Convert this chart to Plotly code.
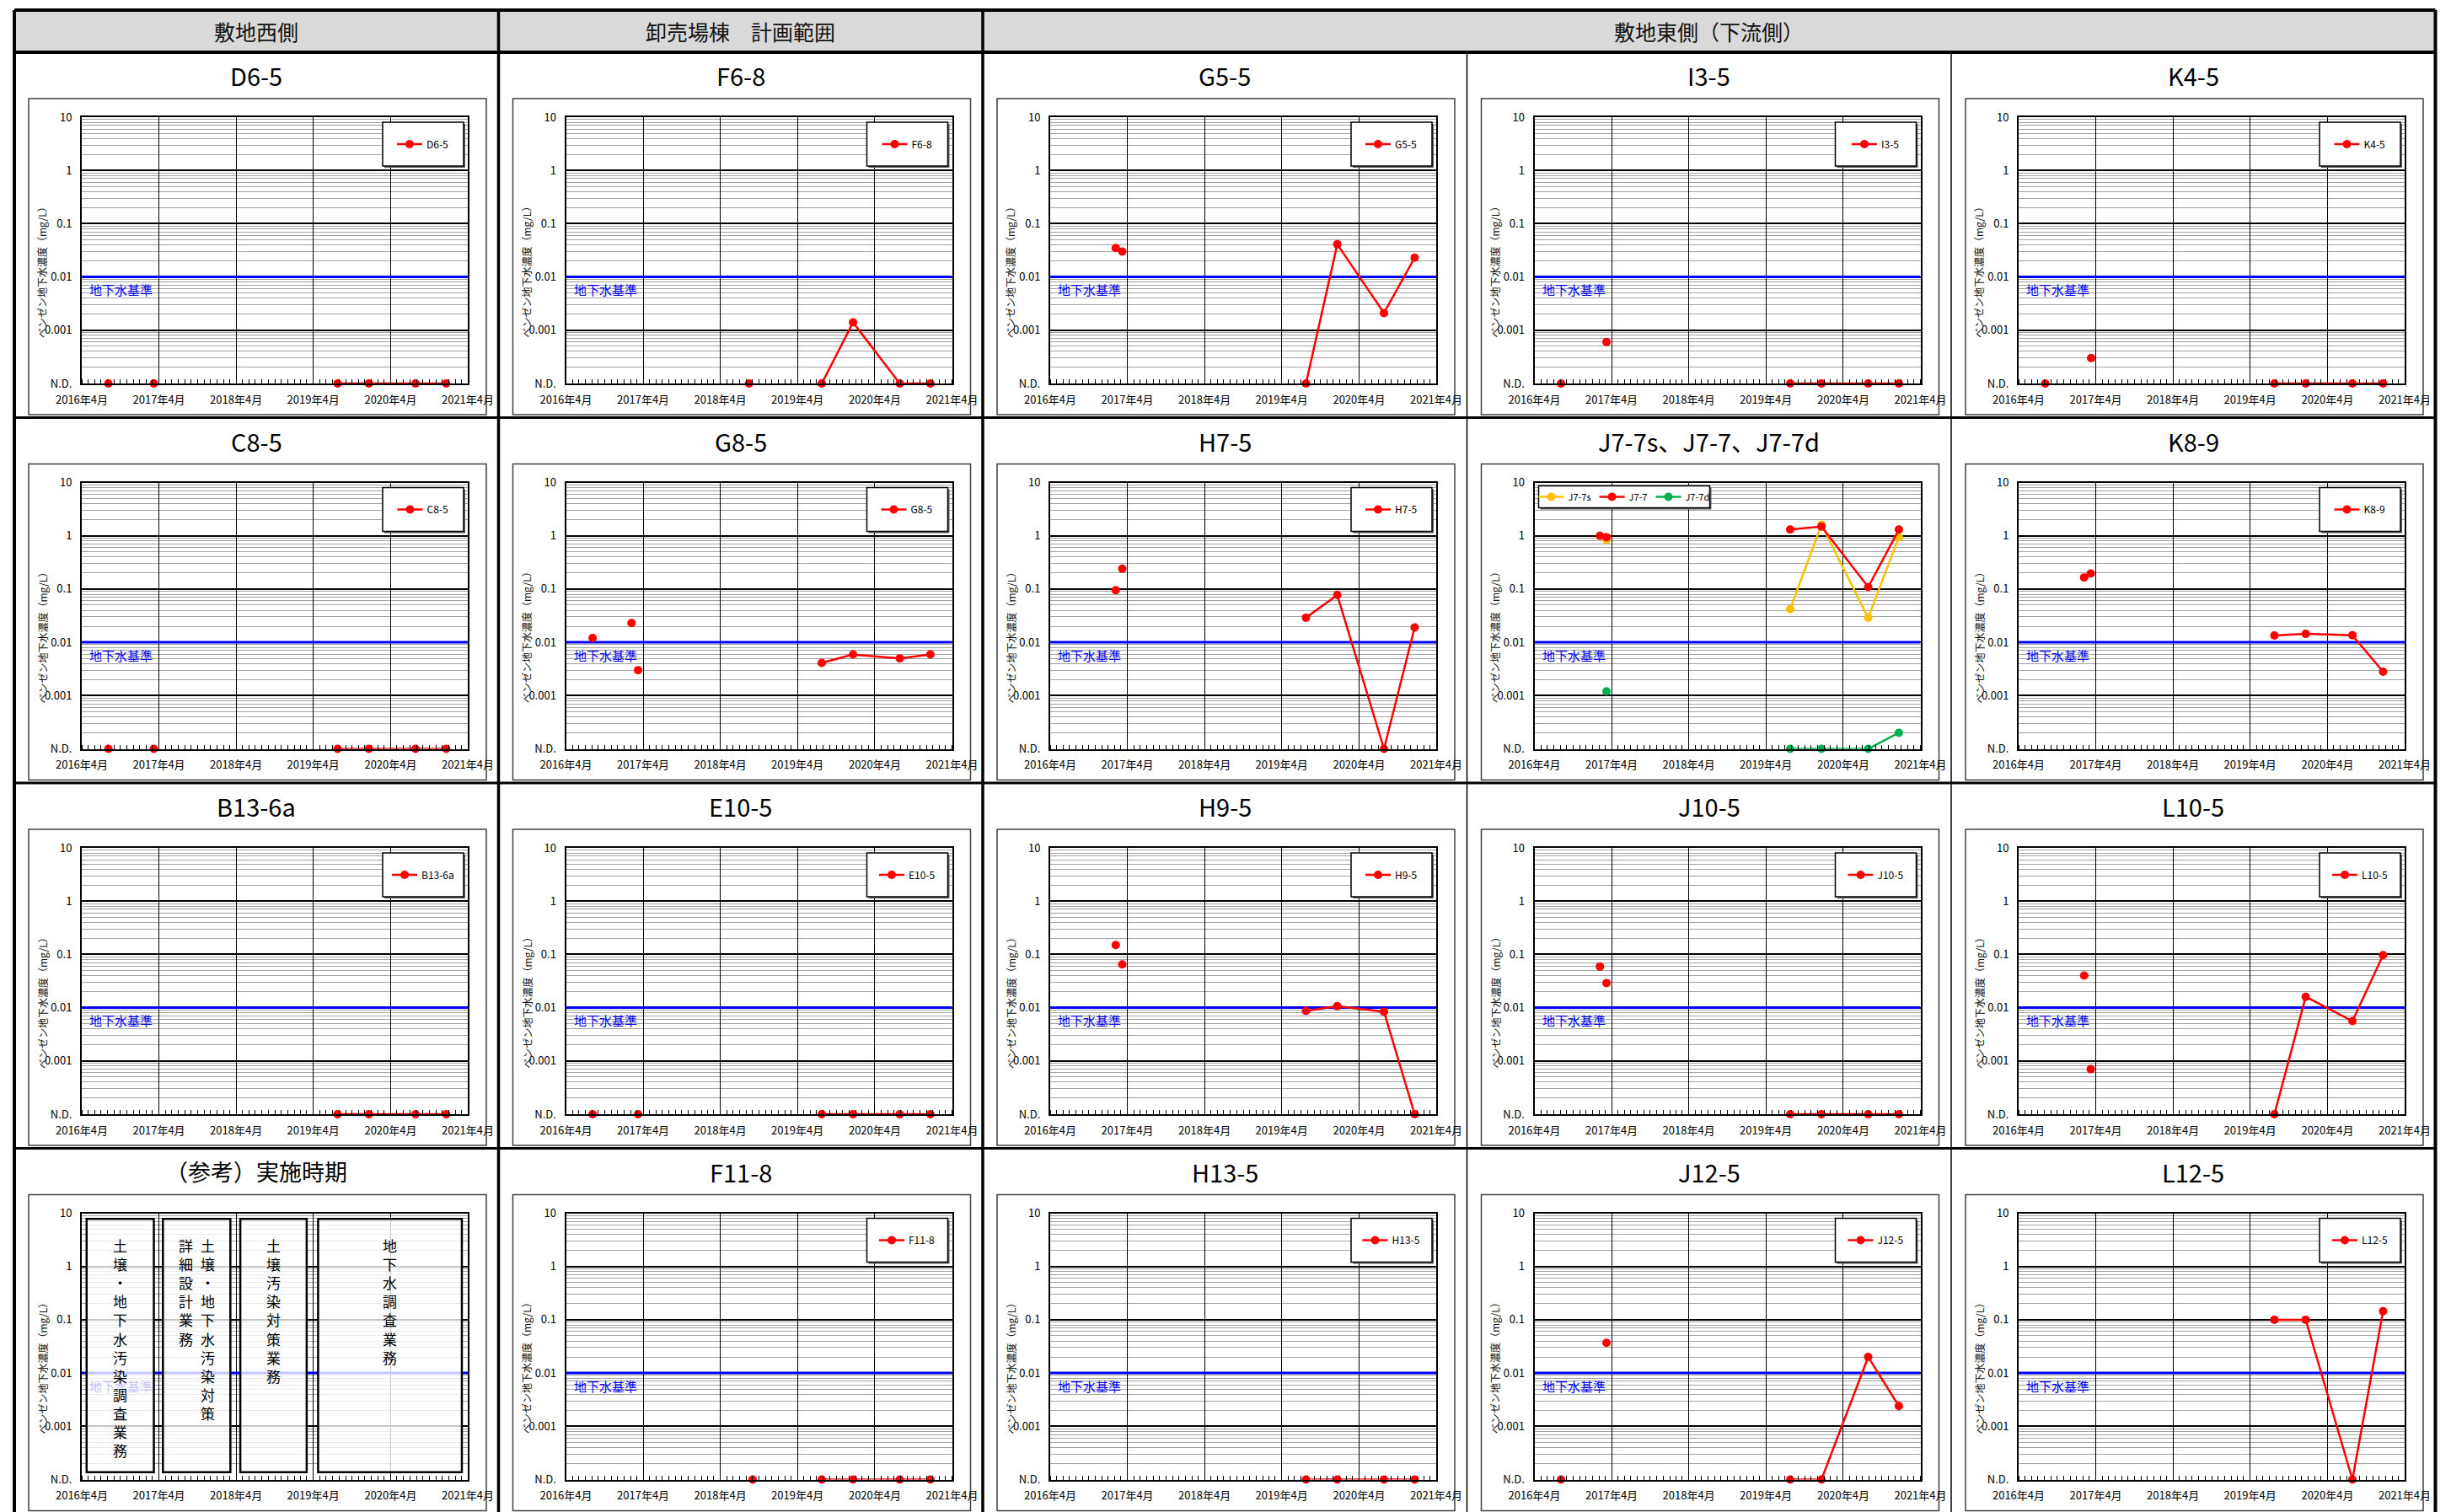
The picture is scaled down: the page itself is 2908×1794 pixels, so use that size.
import math
import pandas as pd
import plotly.graph_objects as go

W, H = 2908, 1794
ND = 1e-4          # N.D. plotted on the bottom of the log axis
Y_TOP = 10
STANDARD = 0.01    # 地下水基準

HEADERS = ["敷地西側", "卸売場棟　計画範囲", "敷地東側（下流側）"]
HEADER_SPANS = [(0, 1), (1, 2), (2, 5)]

Y_TICK_VALS = [1e-4, 1e-3, 1e-2, 1e-1, 1, 10]
Y_TICK_TEXT = ["N.D.", "0.001", "0.01", "0.1", "1", "10"]
X_TICK_VALS = ["2016-04-01", "2017-04-01", "2018-04-01", "2019-04-01", "2020-04-01", "2021-04-01"]
X_TICK_TEXT = ["2016年4月", "2017年4月", "2018年4月", "2019年4月", "2020年4月", "2021年4月"]
Y_TITLE = "ベンゼン地下水濃度（mg/L）"
STANDARD_LABEL = "地下水基準"

LATE_DATES = ["2019-07-25", "2019-12-20", "2020-07-28", "2020-12-20"]

D6_5_EARLY_DATES = ["2016-08-05", "2017-03-08"]
D6_5_EARLY = [ND, ND]
D6_5_LATE = [ND, ND, ND, ND]

F6_8_EARLY_DATES = ["2018-08-15"]
F6_8_EARLY = [ND]
F6_8_LATE = [ND, 0.0014, ND, ND]

G5_5_EARLY_DATES = ["2017-02-05", "2017-03-08"]
G5_5_EARLY = [0.035, 0.030]
G5_5_LATE = [ND, 0.041, 0.0021, 0.023]

I3_5_EARLY_DATES = ["2016-08-05", "2017-03-08"]
I3_5_EARLY = [ND, 0.0006]
I3_5_LATE = [ND, ND, ND, ND]

K4_5_EARLY_DATES = ["2016-08-05", "2017-03-10"]
K4_5_EARLY = [ND, 0.0003]
K4_5_LATE = [ND, ND, ND, ND]

C8_5_EARLY_DATES = ["2016-08-05", "2017-03-08"]
C8_5_EARLY = [ND, ND]
C8_5_LATE = [ND, ND, ND, ND]

G8_5_EARLY_DATES = ["2016-08-05", "2017-02-05", "2017-03-08"]
G8_5_EARLY = [0.012, 0.023, 0.003]
G8_5_LATE = [0.0041, 0.0059, 0.0050, 0.0059]

H7_5_EARLY_DATES = ["2017-02-05", "2017-03-08"]
H7_5_EARLY = [0.095, 0.24]
H7_5_LATE = [0.029, 0.077, ND, 0.019]

J7_7S_EARLY_DATES = ["2017-03-08"]
J7_7S_EARLY = [0.83]
J7_7S_LATE = [0.042, 1.62, 0.029, 0.94]

J7_7_EARLY_DATES = ["2017-02-05", "2017-03-08"]
J7_7_EARLY = [1.0, 0.94]
J7_7_LATE = [1.31, 1.49, 0.109, 1.31]

J7_7D_EARLY_DATES = ["2017-03-08"]
J7_7D_EARLY = [0.0012]
J7_7D_LATE = [ND, ND, ND, 0.0002]

K8_9_EARLY_DATES = ["2017-02-05", "2017-03-08"]
K8_9_EARLY = [0.165, 0.195]
K8_9_LATE = [0.0134, 0.0144, 0.0136, 0.0028]

B13_6A_EARLY_DATES = []
B13_6A_EARLY = []
B13_6A_LATE = [ND, ND, ND, ND]

E10_5_EARLY_DATES = ["2016-08-05", "2017-03-08"]
E10_5_EARLY = [ND, ND]
E10_5_LATE = [ND, ND, ND, ND]

H9_5_EARLY_DATES = ["2017-02-05", "2017-03-08"]
H9_5_EARLY = [0.15, 0.065]
H9_5_LATE = [0.0087, 0.0107, 0.0084, ND]

J10_5_EARLY_DATES = ["2017-02-05", "2017-03-08"]
J10_5_EARLY = [0.059, 0.029]
J10_5_LATE = [ND, ND, ND, ND]

L10_5_EARLY_DATES = ["2017-02-05", "2017-03-08"]
L10_5_EARLY = [0.040, 0.0007]
L10_5_LATE = [ND, 0.016, 0.0056, 0.097]

F11_8_EARLY_DATES = ["2018-09-01"]
F11_8_EARLY = [ND]
F11_8_LATE = [ND, ND, ND, ND]

H13_5_EARLY_DATES = []
H13_5_EARLY = []
H13_5_LATE = [ND, ND, ND, ND]

J12_5_EARLY_DATES = ["2016-08-05", "2017-03-08"]
J12_5_EARLY = [ND, 0.037]
J12_5_LATE = [ND, ND, 0.020, 0.0024]

L12_5_EARLY_DATES = []
L12_5_EARLY = []
L12_5_LATE = [0.10, 0.10, ND, 0.145]

REF_PERIOD_START = ["2016-04-24", "2017-04-20", "2018-04-21", "2019-04-24"]
REF_PERIOD_END = ["2017-03-08", "2018-03-05", "2019-03-01", "2021-03-04"]
REF_TEXTS = [["土壌・地下水汚染調査業務"],
             ["土壌・地下水汚染対策", "詳細設計業務"],
             ["土壌汚染対策業務"],
             ["地下水調査業務"]]

RED, ORANGE, GREEN, BLUE = "#ff0000", "#ffc000", "#00b050", "#0000ff"

SERIES = {
    "D6-5": (D6_5_EARLY_DATES, D6_5_EARLY, D6_5_LATE, RED),
    "F6-8": (F6_8_EARLY_DATES, F6_8_EARLY, F6_8_LATE, RED),
    "G5-5": (G5_5_EARLY_DATES, G5_5_EARLY, G5_5_LATE, RED),
    "I3-5": (I3_5_EARLY_DATES, I3_5_EARLY, I3_5_LATE, RED),
    "K4-5": (K4_5_EARLY_DATES, K4_5_EARLY, K4_5_LATE, RED),
    "C8-5": (C8_5_EARLY_DATES, C8_5_EARLY, C8_5_LATE, RED),
    "G8-5": (G8_5_EARLY_DATES, G8_5_EARLY, G8_5_LATE, RED),
    "H7-5": (H7_5_EARLY_DATES, H7_5_EARLY, H7_5_LATE, RED),
    "J7-7s": (J7_7S_EARLY_DATES, J7_7S_EARLY, J7_7S_LATE, ORANGE),
    "J7-7": (J7_7_EARLY_DATES, J7_7_EARLY, J7_7_LATE, RED),
    "J7-7d": (J7_7D_EARLY_DATES, J7_7D_EARLY, J7_7D_LATE, GREEN),
    "K8-9": (K8_9_EARLY_DATES, K8_9_EARLY, K8_9_LATE, RED),
    "B13-6a": (B13_6A_EARLY_DATES, B13_6A_EARLY, B13_6A_LATE, RED),
    "E10-5": (E10_5_EARLY_DATES, E10_5_EARLY, E10_5_LATE, RED),
    "H9-5": (H9_5_EARLY_DATES, H9_5_EARLY, H9_5_LATE, RED),
    "J10-5": (J10_5_EARLY_DATES, J10_5_EARLY, J10_5_LATE, RED),
    "L10-5": (L10_5_EARLY_DATES, L10_5_EARLY, L10_5_LATE, RED),
    "F11-8": (F11_8_EARLY_DATES, F11_8_EARLY, F11_8_LATE, RED),
    "H13-5": (H13_5_EARLY_DATES, H13_5_EARLY, H13_5_LATE, RED),
    "J12-5": (J12_5_EARLY_DATES, J12_5_EARLY, J12_5_LATE, RED),
    "L12-5": (L12_5_EARLY_DATES, L12_5_EARLY, L12_5_LATE, RED),
}

PANEL_TITLES = ["D6-5", "F6-8", "G5-5", "I3-5", "K4-5",
                "C8-5", "G8-5", "H7-5", "J7-7s、J7-7、J7-7d", "K8-9",
                "B13-6a", "E10-5", "H9-5", "J10-5", "L10-5",
                "（参考）実施時期", "F11-8", "H13-5", "J12-5", "L12-5"]
PANEL_SERIES = [["D6-5"], ["F6-8"], ["G5-5"], ["I3-5"], ["K4-5"],
                ["C8-5"], ["G8-5"], ["H7-5"], ["J7-7s", "J7-7", "J7-7d"], ["K8-9"],
                ["B13-6a"], ["E10-5"], ["H9-5"], ["J10-5"], ["L10-5"],
                [], ["F11-8"], ["H13-5"], ["J12-5"], ["L12-5"]]

MINOR_VALS = [m * 10 ** d for d in range(-4, 1) for m in range(2, 10)]

# ---------------- layout geometry (pixels) ----------------
FONT = "Noto Sans CJK JP"
NARROW = "Liberation Sans Narrow, Noto Sans CJK JP"
COL_X0, COL_W = 17, 574.5
ROW_TOP = [62, 495.5, 929, 1362.5]
HEADER_TOP = 12


def PX(p):
    return p / W


def PY(p):
    return 1 - p / H


fig = go.Figure()
layout = dict(width=W, height=H,
              margin=dict(l=0, r=0, t=0, b=0, pad=0, autoexpand=False),
              paper_bgcolor="white", plot_bgcolor="white", showlegend=True)
shapes, annotations = [], []

LOG_LO, LOG_HI = math.log10(ND), math.log10(Y_TOP)
STD_FRAC = (math.log10(STANDARD) - LOG_LO) / (LOG_HI - LOG_LO)

for k in range(20):
    r, c = divmod(k, 5)
    cx, cy = COL_X0 + c * COL_W, ROW_TOP[r]
    n = k + 1
    xn = "x" if n == 1 else f"x{n}"
    yn = "y" if n == 1 else f"y{n}"
    xk = "xaxis" if n == 1 else f"xaxis{n}"
    yk = "yaxis" if n == 1 else f"yaxis{n}"
    lk = "legend" if n == 1 else f"legend{n}"
    is_ref = len(PANEL_SERIES[k]) == 0

    layout[xk] = dict(
        domain=[PX(cx + 80), PX(cx + 538)], anchor=yn, type="date",
        range=[X_TICK_VALS[0], X_TICK_VALS[-1]],
        tickmode="array", tickvals=X_TICK_VALS, ticktext=X_TICK_TEXT,
        ticks="outside", ticklen=6, tickcolor="rgba(0,0,0,0)",
        tickfont=dict(family=NARROW, size=13, color="black"),
        showgrid=True, gridcolor="black", gridwidth=1.3,
        showline=True, linecolor="black", linewidth=2, mirror=True,
        zeroline=False, fixedrange=True, automargin=False,
        minor=dict(tickmode="linear", tick0=X_TICK_VALS[0], dtick="M1",
                   ticks="inside", ticklen=5, tickwidth=1, tickcolor="black",
                   showgrid=False),
    )
    layout[yk] = dict(
        domain=[PY(cy + 393), PY(cy + 77)], anchor=xn, type="log",
        range=[LOG_LO, LOG_HI],
        tickmode="array", tickvals=Y_TICK_VALS, ticktext=Y_TICK_TEXT,
        ticks="outside", ticklen=7, tickcolor="rgba(0,0,0,0)",
        tickfont=dict(family=NARROW, size=13, color="black"),
        showgrid=True, gridcolor="black", gridwidth=2,
        showline=True, linecolor="black", linewidth=2, mirror=True,
        zeroline=False, fixedrange=True, automargin=False,
        minor=dict(tickmode="array", tickvals=MINOR_VALS, showgrid=True,
                   gridcolor="#a3a3a3", gridwidth=1.4, ticks=""),
    )

    # standard line
    fig.add_trace(go.Scatter(x=[X_TICK_VALS[0], X_TICK_VALS[-1]], y=[STANDARD, STANDARD],
                             mode="lines", line=dict(color=BLUE, width=3),
                             xaxis=xn, yaxis=yn, showlegend=False, hoverinfo="skip"))

    for name in PANEL_SERIES[k]:
        ed, ev, lv, col = SERIES[name]
        xs, ys = [], []
        for d, v in zip(ed, ev):
            xs += [d, d]
            ys += [v, None]
        xs += LATE_DATES
        ys += lv
        fig.add_trace(go.Scatter(
            x=xs, y=ys, mode="lines+markers", name=name, legend=lk,
            line=dict(color=col, width=2.5), marker=dict(size=10, color=col),
            xaxis=xn, yaxis=yn, cliponaxis=False, connectgaps=False, hoverinfo="skip"))

    # inner chart frame
    shapes.append(dict(type="rect", xref="paper", yref="paper",
                       x0=PX(cx + 17), x1=PX(cx + 560), y0=PY(cy + 430), y1=PY(cy + 55),
                       line=dict(color="#404040", width=1.5), layer="below"))

    # title
    annotations.append(dict(text=PANEL_TITLES[k], xref="paper", yref="paper",
                            x=PX(cx + COL_W / 2), y=PY(cy + 27), xanchor="center", yanchor="middle",
                            showarrow=False,
                            font=dict(family=(FONT if is_ref else NARROW), size=(27 if is_ref else 29), color="black")))
    # y-axis title
    annotations.append(dict(text=Y_TITLE, xref="paper", yref="paper", textangle=-90,
                            x=PX(cx + 33), y=PY(cy + 258), xanchor="center", yanchor="middle",
                            showarrow=False, font=dict(family=FONT, size=12, color="#111")))
    # standard label
    annotations.append(dict(text=STANDARD_LABEL, xref=f"{xn} domain", yref=f"{yn} domain",
                            x=7 / 458, y=STD_FRAC, xanchor="left", yanchor="middle", yshift=-15,
                            showarrow=False,
                            font=dict(family=FONT, size=15,
                                      color=("rgba(80,80,255,0.35)" if is_ref else BLUE))))

    if not is_ref:
        multi = len(PANEL_SERIES[k]) > 1
        if multi:
            bx0, bx1, by0, by1 = cx + 85, cx + 288, cy + 81, cy + 107
        else:
            bx0, bx1, by0, by1 = cx + 437, cx + 533, cy + 83, cy + 135
        shapes.append(dict(type="rect", xref="paper", yref="paper",
                           x0=PX(bx0 + 2), x1=PX(bx1 + 2), y0=PY(by1 + 2), y1=PY(by0 + 2),
                           line=dict(width=0), fillcolor="#606060", layer="above"))
        shapes.append(dict(type="rect", xref="paper", yref="paper",
                           x0=PX(bx0), x1=PX(bx1), y0=PY(by1), y1=PY(by0),
                           line=dict(color="black", width=1.5), fillcolor="white", layer="above"))
        layout[lk] = dict(x=PX((bx0 + bx1) / 2), y=PY((by0 + by1) / 2),
                          xanchor="center", yanchor="middle",
                          orientation=("h" if multi else "v"),
                          bgcolor="rgba(0,0,0,0)", borderwidth=0,
                          itemwidth=30, tracegroupgap=0,
                          font=dict(family=NARROW, size=(11 if multi else 12), color="black"))
    else:
        for s, e, texts in zip(REF_PERIOD_START, REF_PERIOD_END, REF_TEXTS):
            shapes.append(dict(type="rect", xref=xn, yref=f"{yn} domain",
                               x0=s, x1=e, y0=0.028, y1=0.979,
                               fillcolor="rgba(255,255,255,0.78)",
                               line=dict(color="black", width=2.5), layer="above"))
            mid = pd.Timestamp(s) + (pd.Timestamp(e) - pd.Timestamp(s)) / 2
            shifts = [0] if len(texts) == 1 else [13, -13]
            for t, sh in zip(texts, shifts):
                annotations.append(dict(text="<br>".join(list(t)), xref=xn, yref=f"{yn} domain",
                                        x=mid.strftime("%Y-%m-%d"), y=0.925, xshift=sh,
                                        xanchor="center", yanchor="top", showarrow=False,
                                        font=dict(family=FONT, size=17, color="black")))

# ---------------- table grid ----------------
RIGHT = COL_X0 + 5 * COL_W
shapes.append(dict(type="rect", xref="paper", yref="paper",
                   x0=PX(COL_X0), x1=PX(RIGHT), y0=PY(ROW_TOP[0]), y1=PY(HEADER_TOP),
                   fillcolor="#d9d9d9", line=dict(width=0), layer="below"))
for (a, b), txt in zip(HEADER_SPANS, HEADERS):
    annotations.append(dict(text=txt, xref="paper", yref="paper",
                            x=PX(COL_X0 + (a + b) / 2 * COL_W), y=PY((HEADER_TOP + ROW_TOP[0]) / 2),
                            xanchor="center", yanchor="middle", showarrow=False,
                            font=dict(family=FONT, size=25, color="#111")))


def hline(y, w):
    shapes.append(dict(type="line", xref="paper", yref="paper", x0=PX(COL_X0), x1=PX(RIGHT),
                       y0=PY(y), y1=PY(y), line=dict(color="black", width=w), layer="above"))


def vline(x, y0, w):
    shapes.append(dict(type="line", xref="paper", yref="paper", x0=PX(x), x1=PX(x),
                       y0=PY(y0), y1=PY(H + 5), line=dict(color="black", width=w), layer="above"))


hline(HEADER_TOP, 4)
hline(ROW_TOP[0], 4)
for y in ROW_TOP[1:]:
    hline(y, 3)
vline(COL_X0, HEADER_TOP, 4)
vline(RIGHT, HEADER_TOP, 4)
vline(COL_X0 + COL_W, HEADER_TOP, 3.5)
vline(COL_X0 + 2 * COL_W, HEADER_TOP, 3.5)
vline(COL_X0 + 3 * COL_W, ROW_TOP[0], 1.5)
vline(COL_X0 + 4 * COL_W, ROW_TOP[0], 1.5)

layout["shapes"] = shapes
layout["annotations"] = annotations
fig.update_layout(**layout)

fig.write_html("out.html", config={"displayModeBar": False},
               post_script="document.body.style.margin='0';document.body.style.overflow='hidden';")
